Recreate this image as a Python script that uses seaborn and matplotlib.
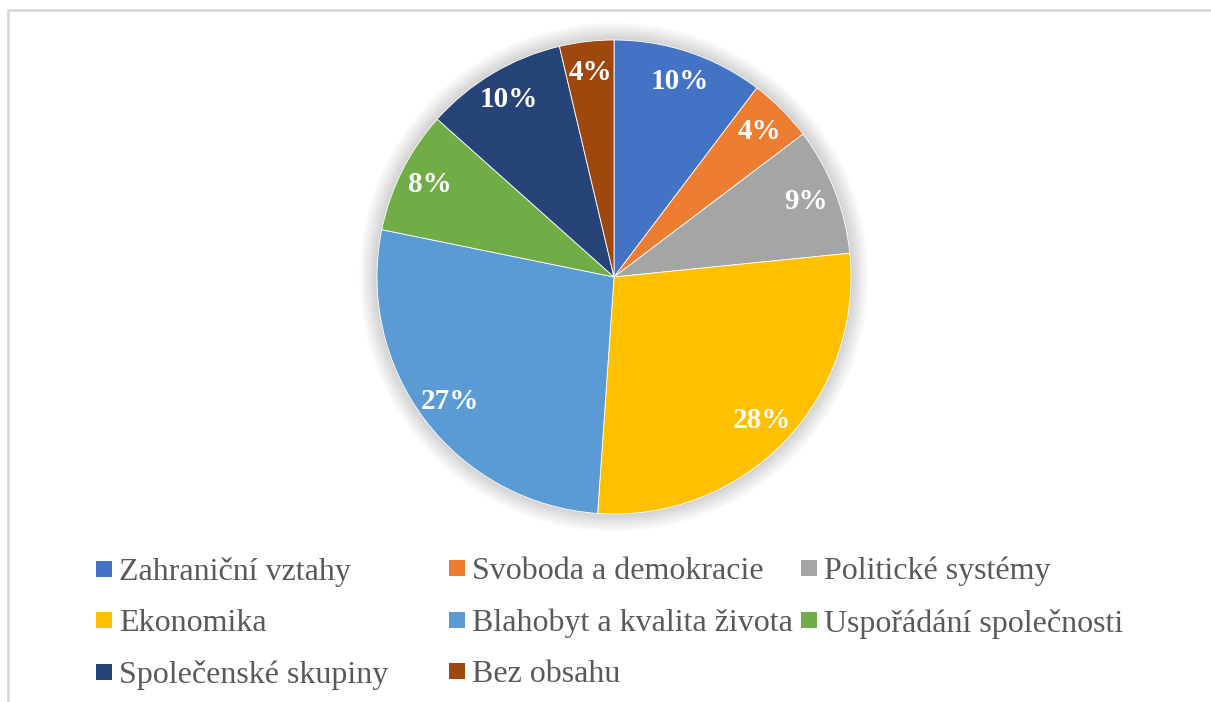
import matplotlib
matplotlib.use('Agg')
import matplotlib.pyplot as plt
import seaborn as sns
import numpy as np
from matplotlib.lines import Line2D
from matplotlib.patches import Circle

sns.set_theme(style='white')
plt.rcParams['font.family'] = ['Liberation Serif', 'DejaVu Serif']

# Data (shares in %)
categories = ['Zahraniční vztahy', 'Svoboda a demokracie', 'Politické systémy',
              'Ekonomika', 'Blahobyt a kvalita života', 'Uspořádání společnosti',
              'Společenské skupiny', 'Bez obsahu']
shares = [10.3, 4.4, 8.7, 27.7, 27.1, 8.4, 9.7, 3.7]
colors = ['#4472C4', '#ED7D31', '#A5A5A5', '#FFC000',
          '#5B9BD5', '#70AD47', '#264478', '#9E480E']

W, H = 1211, 702
fig = plt.figure(figsize=(W / 100, H / 100), dpi=100)

# pie axes: centre (614, 277), radius 237 px
cx, cy, r = 614, 277, 237
ax = fig.add_axes([(cx - r) / W, (H - cy - r) / H, 2 * r / W, 2 * r / H])

# soft glow-like shadow around the pie
for i in range(16):
    ax.add_patch(Circle((0.0, 0.0), 1.0 + i * 0.005, color='black',
                        alpha=0.011, lw=0, zorder=0, clip_on=False))

wedges, texts, autotexts = ax.pie(
    shares, colors=colors, startangle=90, counterclock=False,
    autopct='%.0f%%', pctdistance=0.87, radius=1.0,
    wedgeprops=dict(edgecolor='white', linewidth=0.6),
    textprops=dict(color='white', fontsize=21, fontweight='bold'))
ax.set_xlim(-1, 1)
ax.set_ylim(-1, 1)
ax.set_aspect('equal')
ax.axis('off')

# chart border (top and left)
fig.add_artist(Line2D([8 / W, 8 / W], [0, 1 - 10 / H], color='#d9d9d9', lw=2))
fig.add_artist(Line2D([8 / W, 1], [1 - 10 / H, 1 - 10 / H], color='#d9d9d9', lw=2))

# legend in three equal-width columns
columns = [[0, 3, 6], [1, 4, 7], [2, 5]]
col_x = [93, 446, 798]
for xs, idx in zip(col_x, columns):
    handles = [Line2D([], [], marker='s', linestyle='', markersize=11.5,
                      markerfacecolor=colors[i], markeredgewidth=0) for i in idx]
    leg = fig.legend(handles, [categories[i] for i in idx],
                     loc='upper left', bbox_to_anchor=(xs / W, 1 - 557 / H),
                     frameon=False, fontsize=23, borderpad=0, borderaxespad=0,
                     handlelength=0.7, handletextpad=0.12, labelspacing=0.69)
    for t in leg.get_texts():
        t.set_color('#595959')

fig.savefig('out.png', dpi=100)
